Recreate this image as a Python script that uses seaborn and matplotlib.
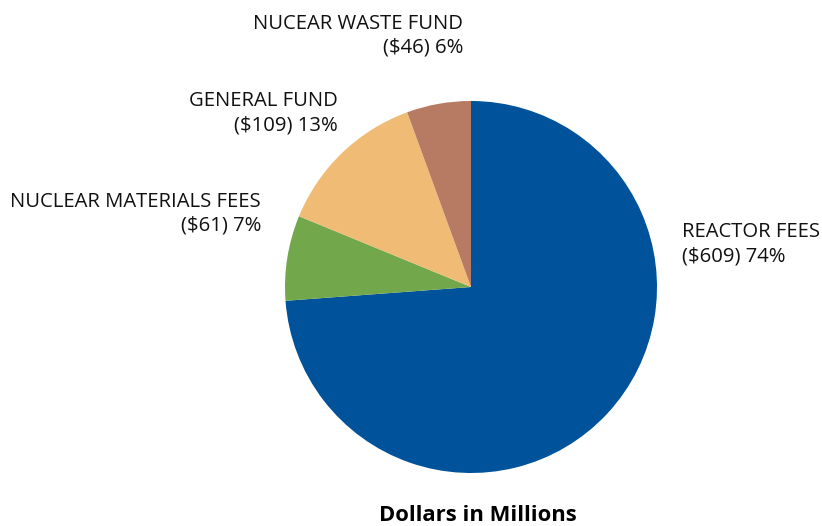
import matplotlib
matplotlib.use("Agg")
import matplotlib.pyplot as plt
import seaborn as sns

# Funding sources (dollars in millions)
categories = ["REACTOR FEES", "NUCLEAR MATERIALS FEES", "GENERAL FUND", "NUCEAR WASTE FUND"]
amounts = [609, 61, 109, 46]
percents = [74, 7, 13, 6]
colors = ["#00529b", "#72a84b", "#f0bb74", "#b77a63"]
title = "Dollars in Millions"

sns.set_theme(style="white")
plt.rcParams["font.family"] = ["Open Sans", "DejaVu Sans"]

W, H = 822, 526
fig = plt.figure(figsize=(W / 100, H / 100), dpi=100)
fig.patch.set_facecolor("white")

cx, cy, r = 471, 287, 186
ax = fig.add_axes([(cx - r) / W, (H - cy - r) / H, 2 * r / W, 2 * r / H])
ax.pie(amounts, colors=colors, startangle=90, counterclock=False, radius=1,
       wedgeprops=dict(linewidth=0))
ax.set_xlim(-1, 1)
ax.set_ylim(-1, 1)
ax.set_aspect("equal")
ax.axis("off")

def px(x, y):
    return x / W, 1 - y / H

# label anchors: (x, first baseline y, alignment)
anchors = [(682, 237, "left"), (261, 207, "right"), (338, 106, "right"), (463, 29, "right")]
fs = 14.6
for name, amt, pct, (x, y, ha) in zip(categories, amounts, percents, anchors):
    fig.text(*px(x, y), name, ha=ha, va="baseline", fontsize=fs, color="#111111")
    fig.text(*px(x, y + 24), f"(${amt}) {pct}%", ha=ha, va="baseline", fontsize=fs, color="#111111")

fig.text(*px(478, 521), title, ha="center", va="baseline", fontsize=15.8,
         fontweight="bold", color="#000000")

fig.savefig("out.png", dpi=100, facecolor="white")
